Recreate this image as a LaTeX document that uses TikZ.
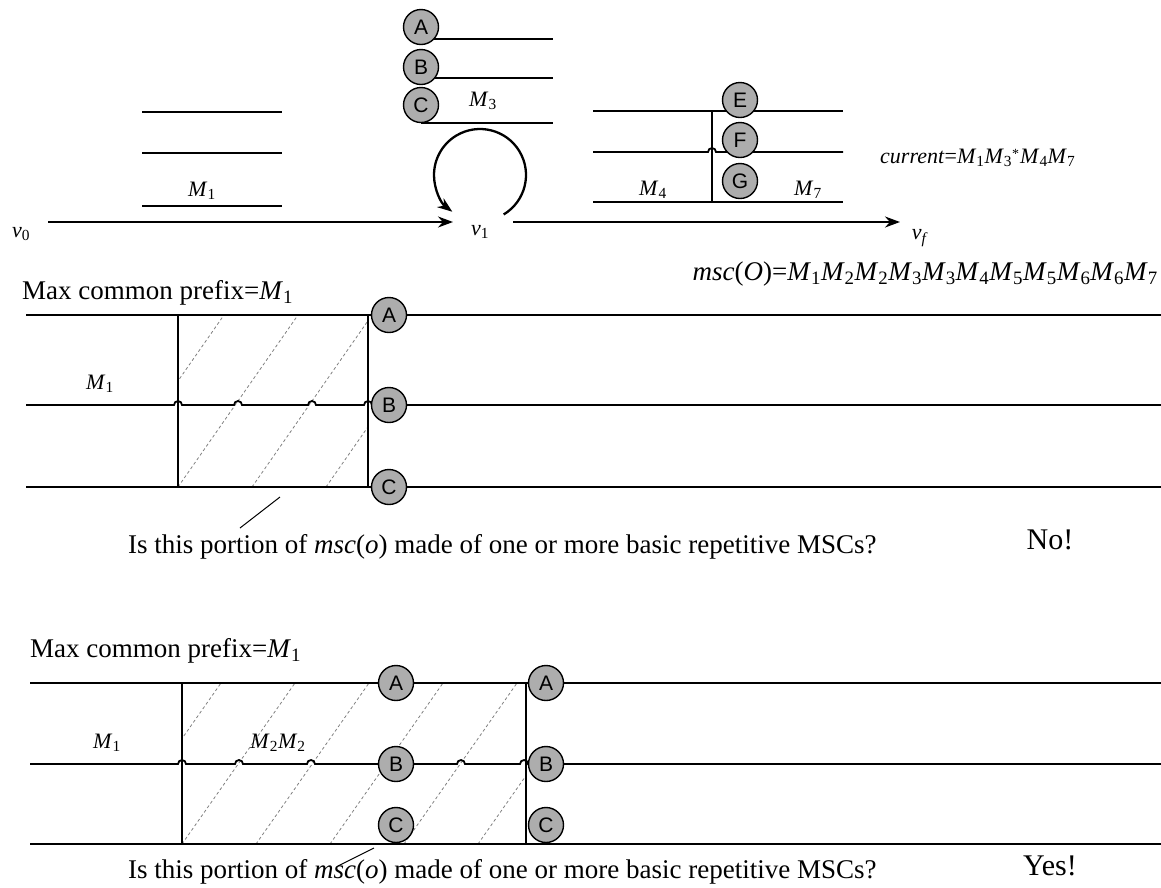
\documentclass[tikz,border=0pt]{standalone}
\usepackage{fontspec}
\setmainfont{Liberation Serif}
\setsansfont{Liberation Sans}
\usetikzlibrary{arrows.meta,backgrounds}

% message labels: italic M with a subscript
\newcommand{\Msg}[1]{\textit{M}\textsubscript{#1}}
\newcommand{\Vtx}[1]{\textit{v}\textsubscript{#1}}

\begin{document}
\begin{tikzpicture}[x=1pt,y=-1pt,
  msg/.style={line width=1.8pt},
  life/.style={line width=1.3pt},
  hatch/.style={black!50, line width=0.8pt, dash pattern=on 3pt off 2.5pt},
  inst/.style={circle, draw=black, line width=1.4pt, fill=black!32,
    minimum size=35pt, inner sep=0pt, font=\sffamily\fontsize{21}{21}\selectfont},
  lbl/.style={inner sep=0pt, font=\fontsize{22}{22}\selectfont},
  txt/.style={inner sep=0pt, font=\fontsize{27}{27}\selectfont},
  verdict/.style={inner sep=0pt, font=\fontsize{30}{30}\selectfont},
  arr/.style={-{Stealth[length=15pt,width=11pt]}, line width=1.7pt},
  pointer/.style={line width=1pt},
]
\useasboundingbox (0,0) rectangle (1161,887);

%% ---------- top: the graph path v0 -> v1 -> vf ----------
% M1 block
\draw[msg] (142,112) -- (282,112);
\draw[msg] (142,153) -- (282,153);
\draw[msg] (142,206) -- (282,206);
\node[lbl] (m1top) at (202,191) {\Msg{1}};

% vertices
\node[lbl] (v0) at (21,234) {\Vtx{0}};
\node[lbl] (v1) at (480,232) {\Vtx{1}};
\node[lbl] (vf) at (920,238) {\textit{v}\textsubscript{\textit{f}}};
\coordinate (e0s) at (48,222);
\coordinate (e0t) at (453,222);
\coordinate (e1s) at (513,222);
\coordinate (e1t) at (900,222);
\draw[arr] (e0s) -- (e0t);
\draw[arr] (e1s) -- (e1t);

% self loop on v1
\coordinate (loopc) at (480,175);
\draw[arr, line width=2.3pt] (loopc) ++(59:46) arc (59:-233:46);

% M3 block with instances A, B, C
\node[inst] (tA) at (421,27) {A};
\node[inst] (tB) at (421,67) {B};
\node[inst] (tC) at (421,105) {C};
\begin{scope}[on background layer]
  \draw[msg] (tA.center |- 0,39) -- (553,39);
  \draw[msg] (tB.center |- 0,78) -- (553,78);
  \draw[msg] (tC.center |- 0,123) -- (553,123);
\end{scope}
\node[lbl] (m3) at (483,101) {\Msg{3}};

% M4 M7 block with instances E, F, G
\node[inst] (tE) at (740,100) {E};
\node[inst] (tF) at (740,140) {F};
\node[inst] (tG) at (740,181) {G};
\begin{scope}[on background layer]
  \draw[msg] (593,111) -- (843,111);
  \draw[msg] (593,152) -- (708,152) arc (180:360:4) -- (843,152);
  \draw[msg] (593,202) -- (843,202);
  \draw[life] (712,111) -- (712,202);
\end{scope}
\node[lbl] (m4) at (653,190) {\Msg{4}};
\node[lbl] (m7) at (808,190) {\Msg{7}};

\node[lbl, anchor=west] (cur) at (880,158)
  {\textit{current}=\Msg{1}\Msg{3}\raisebox{0.55ex}{\fontsize{14}{14}\selectfont*}\kern0.05em\Msg{4}\Msg{7}};

%% ---------- middle: first candidate ----------
\node[txt, anchor=west] (pref1) at (22,293) {Max common prefix=\Msg{1}};
\node[txt, anchor=east] (mscO) at (1158,274)
  {\textit{msc}(\textit{O})=\Msg{1}\Msg{2}\Msg{2}\Msg{3}\Msg{3}\Msg{4}\Msg{5}\Msg{5}\Msg{6}\Msg{6}\Msg{7}};

\begin{scope}
  \clip (178,315) rectangle (368,487);
  \foreach \xb in {104,178,252,326}
    \draw[hatch] (\xb,487) -- ++(120,-172);
\end{scope}

\draw[msg] (26,315) -- (1161,315);
\draw[msg] (26,405) -- (174,405) arc (180:360:4)
  -- (234,405) arc (180:360:4)
  -- (308,405) arc (180:360:4)
  -- (364,405) arc (180:360:4) -- (1161,405);
\draw[msg] (26,487) -- (1161,487);
\draw[life] (178,315) -- (178,487);
\draw[life] (368,315) -- (368,487);

\node[inst] (mA) at (389,315) {A};
\node[inst] (mB) at (389,405) {B};
\node[inst] (mC) at (389,487) {C};
\node[lbl] (m1mid) at (100,384) {\Msg{1}};

\node[txt, anchor=west] (q1) at (128,547)
  {Is this portion of \textit{msc}(\textit{o}) made of one or more basic repetitive MSCs?};
\coordinate (p1a) at (240,528);
\coordinate (p1b) at (280,497);
\draw[pointer] (p1a) -- (p1b);
\node[verdict] (no) at (1050,540) {No!};

%% ---------- bottom: second candidate ----------
\node[txt, anchor=west] (pref2) at (30,651) {Max common prefix=\Msg{1}};

\begin{scope}
  \clip (182,683) rectangle (526,844);
  \foreach \xb in {108,182,256,330,404,478}
    \draw[hatch] (\xb,844) -- ++(113,-161);
\end{scope}

\draw[msg] (30,683) -- (1161,683);
\draw[msg] (30,764) -- (178,764) arc (180:360:4)
  -- (235,764) arc (180:360:4)
  -- (307,764) arc (180:360:4)
  -- (457,764) arc (180:360:4)
  -- (520,764) arc (180:360:4) -- (1161,764);
\draw[msg] (30,844) -- (1161,844);
\draw[life] (182,683) -- (182,844);
\draw[life] (526,683) -- (526,844);

\node[inst] (bA1) at (396,683) {A};
\node[inst] (bB1) at (396,764) {B};
\node[inst] (bC1) at (396,825) {C};
\node[inst] (bA2) at (546,683) {A};
\node[inst] (bB2) at (546,764) {B};
\node[inst] (bC2) at (546,825) {C};
\node[lbl] (m1bot) at (107,743) {\Msg{1}};
\node[lbl] (m2m2) at (278,743) {\Msg{2}\Msg{2}};

\node[txt, anchor=west] (q2) at (128,872)
  {Is this portion of \textit{msc}(\textit{o}) made of one or more basic repetitive MSCs?};
\coordinate (p2a) at (338,866);
\coordinate (p2b) at (374,848);
\draw[pointer] (p2a) -- (p2b);
\node[verdict] (yes) at (1050,866) {Yes!};
\end{tikzpicture}
\end{document}
